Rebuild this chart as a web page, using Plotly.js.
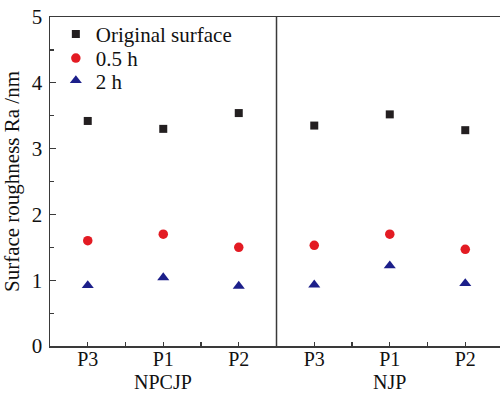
<!DOCTYPE html>
<html>
<head>
<meta charset="utf-8">
<script src="https://cdn.plot.ly/plotly-3.0.1.min.js"></script>
<style>html,body{margin:0;padding:0;background:#fff;}#chart{width:500px;height:394px;}</style>
</head>
<body>
<div id="chart"></div>
<script>
const positions = [1, 2, 3, 4, 5, 6];
const tickLabels = ["P3", "P1", "P2", "P3", "P1", "P2"];
const groups = ["NPCJP", "NJP"];
const groupCenters = [2, 5];
const originalSurface = [3.42, 3.30, 3.54, 3.35, 3.52, 3.28];
const halfHour = [1.60, 1.70, 1.50, 1.53, 1.70, 1.47];
const twoHour = [0.92, 1.04, 0.91, 0.93, 1.22, 0.95];

const FONT = "Liberation Serif, Times New Roman, serif";
const AX = "#3a3a3a";
const FS = 21;
const FSX = 20;

const traces = [
  {x: positions, y: originalSurface, name: "Original surface", type: "scatter", mode: "markers",
   marker: {symbol: "square", size: 8, color: "#231f20"}, legend: "legend", showlegend: true},
  {x: positions, y: halfHour, name: "0.5 h", type: "scatter", mode: "markers",
   marker: {symbol: "circle", size: 9.5, color: "#e31b23"}, legend: "legend2", showlegend: true},
  {x: positions, y: twoHour, name: "2 h", type: "scatter", mode: "markers",
   marker: {symbol: "triangle-up", size: 10.5, color: "#1c1f8a"}, legend: "legend3", showlegend: true}
];

const legendBase = {x: 0.013, xanchor: "left", yanchor: "middle", bgcolor: "rgba(0,0,0,0)",
  font: {family: FONT, size: FS, color: "#111"}, borderwidth: 0, visible: true};

const layout = {
  width: 500, height: 394,
  showlegend: true,
  margin: {l: 49.5, r: 0, t: 17, b: 48},
  paper_bgcolor: "#fff", plot_bgcolor: "#fff",
  font: {family: FONT, size: FS, color: "#111"},
  xaxis: {
    range: [0.5, 6.46], tickmode: "array", tickvals: positions, ticktext: tickLabels,
    ticks: "inside", ticklen: 4, tickwidth: 1.2, tickcolor: AX,
    minor: {tickmode: "linear", tick0: 0.5, dtick: 1, ticks: "inside", ticklen: 4, tickwidth: 1.2, tickcolor: AX},
    showline: true, linecolor: AX, linewidth: 1.5, mirror: true,
    showgrid: false, zeroline: false, ticklabelstandoff: -6,
    tickfont: {family: FONT, size: FSX, color: "#111"}
  },
  yaxis: {
    range: [0, 5], dtick: 1, ticks: "inside", ticklen: 6, tickwidth: 1.2, tickcolor: AX,
    minor: {dtick: 0.5, ticks: "inside", ticklen: 4, tickwidth: 1.2, tickcolor: AX},
    showline: true, linecolor: AX, linewidth: 1.5,
    showgrid: false, zeroline: false, ticklabelstandoff: 2,
    tickfont: {family: FONT, size: FS, color: "#111"},
    title: {text: "Surface roughness Ra /nm", font: {family: FONT, size: FS, color: "#111"}, standoff: 6}
  },
  legend: Object.assign({}, legendBase, {y: 0.947}),
  legend2: Object.assign({}, legendBase, {y: 0.874}),
  legend3: Object.assign({}, legendBase, {y: 0.806}),
  shapes: [
    {type: "line", xref: "x", yref: "y", x0: 3.5, x1: 3.5, y0: 0, y1: 5, line: {color: AX, width: 1.5}}
  ],
  annotations: groups.map((g, i) => ({
    text: g, x: groupCenters[i], xref: "x", y: 0, yref: "paper", yshift: -36,
    showarrow: false, yanchor: "middle", borderpad: 0, font: {family: FONT, size: FSX, color: "#111"}
  }))
};

Plotly.newPlot("chart", traces, layout, {displayModeBar: false, staticPlot: true});
</script>
</body>
</html>
